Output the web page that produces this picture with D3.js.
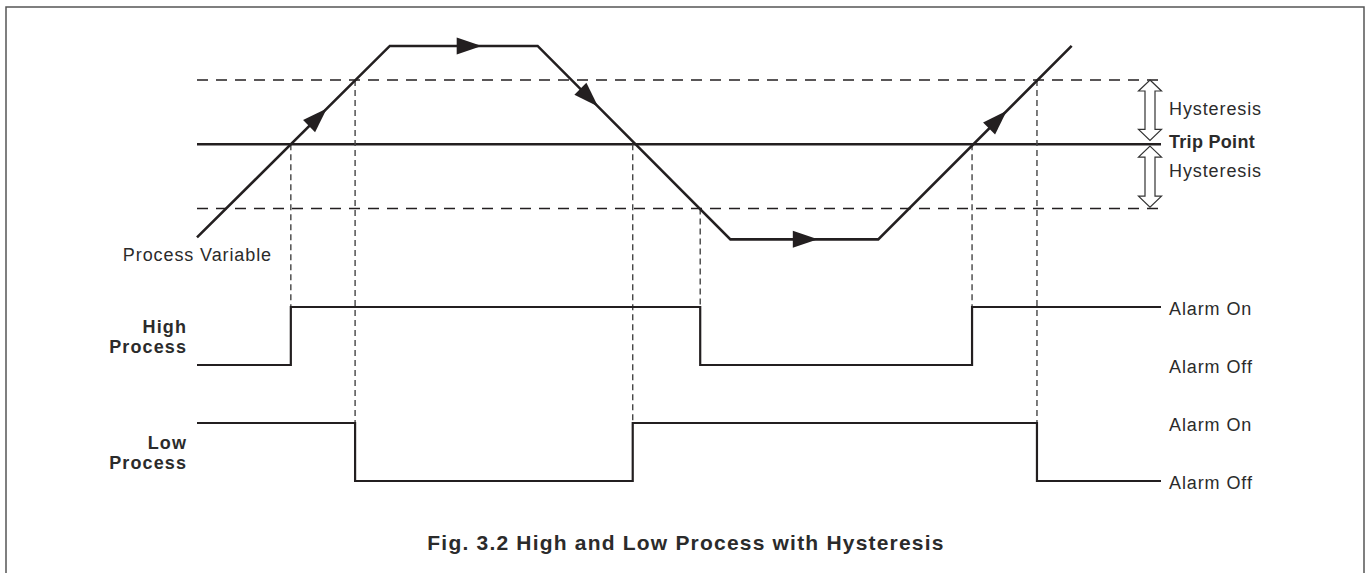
<!DOCTYPE html>
<html>
<head>
<meta charset="utf-8">
<script src="https://cdn.jsdelivr.net/npm/d3@7"></script>
<style>
  body { margin: 0; background: #fff; }
  text { font-family: "Liberation Sans", Arial, sans-serif; fill: #2b2b2b; }
  .lbl { font-size: 18px; letter-spacing: 0.9px; }
  .bold { font-weight: bold; }
</style>
</head>
<body>
<svg width="1367" height="573"></svg>
<script>
// process variable: time (hysteresis widths) vs level (trip = 0, hysteresis = +/-1)
var pvTime  = [0, 3.0, 5.3, 8.3, 10.6, 13.61];
var pvLevel = [-1.45, 1.53, 1.53, -1.48, -1.48, 1.53];
var arrowTimes = [2.02, 4.43, 6.24, 9.66, 12.6];

// alarm switching times, and the level the PV crossed to cause each switch
var highEdges = [1.46, 7.83, 12.06];
var highCross = [0, -1, 0];
var lowEdges = [2.46, 6.78, 13.07];
var lowCross = [1, 0, 1];
var highStates = ["off", "on", "off", "on"];
var lowStates = ["on", "off", "on", "off"];

var thresholds = [1, 0, -1];
var rows = ["High On", "High Off", "Low On", "Low Off"];
var rowLabels = ["Alarm On", "Alarm Off", "Alarm On", "Alarm Off"];
var tEnd = 15;

var svg = d3.select("svg"),
    ink = "#231f20";

var x = d3.scaleLinear().domain([0, tEnd]).range([197, 1161]),
    y = d3.scaleLinear().domain([-1, 1]).range([208.5, 80]),
    row = d3.scalePoint().domain(rows).range([307, 481]);

var pv = d3.scaleLinear().domain(pvTime).range(pvLevel);

// frame
svg.append("rect")
    .attr("x", 6).attr("y", 7)
    .attr("width", 1358).attr("height", 600)
    .attr("fill", "none")
    .attr("stroke", "#555")
    .attr("stroke-width", 1.5);

// hysteresis bands (dashed) and trip point (solid)
svg.selectAll(".thr")
    .data(thresholds)
    .enter().append("line")
    .attr("class", "thr")
    .attr("x1", x(0)).attr("x2", x(tEnd))
    .attr("y1", function (d) { return y(d); })
    .attr("y2", function (d) { return y(d); })
    .attr("stroke", ink)
    .attr("stroke-width", function (d) { return d === 0 ? 2.6 : 1.6; })
    .attr("stroke-dasharray", function (d) { return d === 0 ? null : "11,8"; });

// vertical guide lines from the crossing down to the alarm step
function guides(edges, cross, topRow) {
    svg.append("g").selectAll("line")
        .data(edges)
        .enter().append("line")
        .attr("x1", function (d) { return x(d); })
        .attr("x2", function (d) { return x(d); })
        .attr("y1", function (d, i) { return y(cross[i]); })
        .attr("y2", row(topRow))
        .attr("stroke", "#444")
        .attr("stroke-width", 1.4)
        .attr("stroke-dasharray", "6,4");
}
guides(highEdges, highCross, "High On");
guides(lowEdges, lowCross, "Low On");

// process variable curve
var line = d3.line()
    .x(function (d) { return x(d[0]); })
    .y(function (d) { return y(d[1]); });

svg.append("path")
    .datum(d3.zip(pvTime, pvLevel))
    .attr("d", line)
    .attr("fill", "none")
    .attr("stroke", ink)
    .attr("stroke-width", 2.6)
    .attr("stroke-linejoin", "miter");

svg.selectAll(".arrow")
    .data(arrowTimes)
    .enter().append("path")
    .attr("class", "arrow")
    .attr("d", "M0,0L-25,-8.5L-25,8.5Z")
    .attr("fill", ink)
    .attr("transform", function (t) {
        var dx = x(t) - x(t - 0.01),
            dy = y(pv(t)) - y(pv(t - 0.01)),
            a = Math.atan2(dy, dx) * 180 / Math.PI;
        return "translate(" + x(t) + "," + y(pv(t)) + ") rotate(" + a + ")";
    });

// alarm step lines
function steps(edges, states, prefix) {
    var ts = [0].concat(edges).concat([tEnd]);
    var pts = [];
    states.forEach(function (s, i) {
        var yy = row(prefix + (s === "on" ? " On" : " Off"));
        pts.push([x(ts[i]), yy], [x(ts[i + 1]), yy]);
    });
    svg.append("path")
        .attr("d", d3.line()(pts))
        .attr("fill", "none")
        .attr("stroke", ink)
        .attr("stroke-width", 2.2);
}
steps(highEdges, highStates, "High");
steps(lowEdges, lowStates, "Low");

// hollow double arrows for the hysteresis bands
function dblArrow(cx, y1, y2) {
    var hw = 11.5, hh = 11, sw = 5;
    var p = d3.path();
    p.moveTo(cx, y1);
    p.lineTo(cx + hw, y1 + hh); p.lineTo(cx + sw, y1 + hh);
    p.lineTo(cx + sw, y2 - hh); p.lineTo(cx + hw, y2 - hh);
    p.lineTo(cx, y2);
    p.lineTo(cx - hw, y2 - hh); p.lineTo(cx - sw, y2 - hh);
    p.lineTo(cx - sw, y1 + hh); p.lineTo(cx - hw, y1 + hh);
    p.closePath();
    svg.append("path")
        .attr("d", p.toString())
        .attr("fill", "#fff")
        .attr("stroke", "#333")
        .attr("stroke-width", 1.2);
}
dblArrow(1150, y(1), y(0.06));
dblArrow(1150, y(-0.03), y(-0.98));

// right-hand labels
var lx = 1169;
svg.append("text").attr("class", "lbl")
    .attr("x", lx).attr("y", (y(1) + y(0)) / 2 + 3).text("Hysteresis");
svg.append("text").attr("class", "lbl bold").style("letter-spacing", "0.3px")
    .attr("x", lx).attr("y", y(0) + 3.5).text("Trip Point");
svg.append("text").attr("class", "lbl")
    .attr("x", lx).attr("y", (y(0) + y(-1)) / 2 + 0.5).text("Hysteresis");

svg.selectAll(".alarm")
    .data(rows)
    .enter().append("text")
    .attr("class", "lbl alarm")
    .attr("x", lx)
    .attr("y", function (d) { return row(d) + 8; })
    .text(function (d, i) { return rowLabels[i]; });

svg.append("text").attr("class", "lbl")
    .attr("x", 272).attr("y", 261)
    .attr("text-anchor", "end")
    .text("Process Variable");

// left labels
[["High", "High On", "High Off"], ["Low", "Low On", "Low Off"]].forEach(function (r) {
    var mid = (row(r[1]) + row(r[2])) / 2;
    var t = svg.append("text").attr("class", "lbl bold")
        .attr("text-anchor", "end")
        .style("letter-spacing", "1.1px");
    t.append("tspan").attr("x", 187).attr("y", mid - 3).text(r[0]);
    t.append("tspan").attr("x", 187).attr("y", mid + 17).text("Process");
});

// caption
svg.append("text")
    .attr("class", "bold")
    .attr("x", 686).attr("y", 550)
    .attr("text-anchor", "middle")
    .style("font-size", "21px")
    .style("letter-spacing", "1.2px")
    .text("Fig. 3.2 High and Low Process with Hysteresis");
</script>
</body>
</html>
